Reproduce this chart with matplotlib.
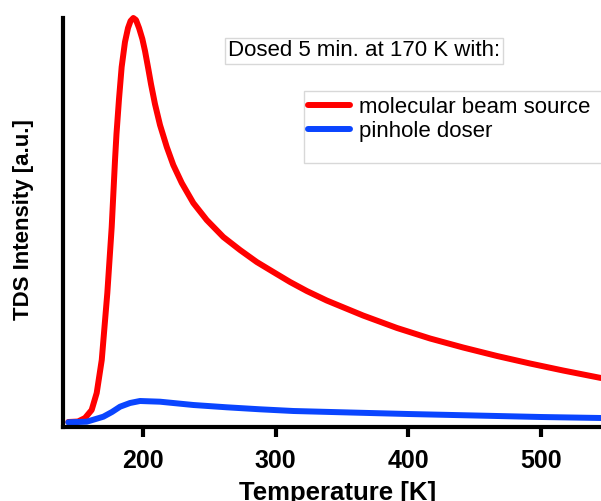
import matplotlib
matplotlib.use('Agg')
import matplotlib.pyplot as plt
from matplotlib.patches import Rectangle

plt.rcParams['font.family'] = ['Liberation Sans', 'DejaVu Sans']

# Datos (temperatura en K, intensidad en unidades arbitrarias)
t_beam = [143.7, 151.0, 156.3, 161.3, 165.1, 168.9, 173.1, 176.4, 178.9, 180.0,
          181.9, 183.9, 186.4, 188.7, 190.6, 192.7, 194.7, 197.0, 199.5, 201.5,
          204.0, 206.0, 209.0, 212.8, 217.9, 222.8, 229.2, 237.9, 248.0, 260.5,
          273.1, 285.7, 298.2, 310.8, 323.4, 338.4, 365.8, 391.4, 416.3, 441.2,
          466.8, 491.6, 516.5, 545.1]
i_beam = [5, 5.5, 9, 17, 34, 67, 134, 200, 267, 293,
          328, 360, 385, 399, 406, 409, 407, 399, 388, 376,
          358, 343, 323, 302, 280, 262, 244, 224, 207, 190,
          177, 165, 155, 145, 136, 126.5, 111.5, 99, 88.5, 79.5,
          71, 63.5, 56.5, 49]

t_pin = [143.7, 157.6, 170.1, 176.6, 182.7, 190.2, 197.7, 212.8, 237.9, 263.1,
         288.2, 313.3, 356.0, 399.7, 450.2, 499.9, 545.1]
i_pin = [4.7, 5.3, 10.3, 15, 20.3, 24, 26, 25.3, 22, 19.7,
         17.7, 16, 14.5, 13, 11.5, 10, 9]

xticks = [200, 300, 400, 500]

fig = plt.figure(figsize=(6.01, 5.01), dpi=100)
ax = fig.add_axes([63/601, 1 - 427/501, 1 - 63/601, (427 - 18)/501])

ax.plot(t_beam, i_beam, color='#ff0000', lw=4.3, solid_joinstyle='round',
        solid_capstyle='round', clip_on=False, label='molecular beam source')
ax.plot(t_pin, i_pin, color='#0a45ff', lw=4.3, solid_joinstyle='round',
        solid_capstyle='round', label='pinhole doser')

ax.set_xlim(139.7, 545.1)
ax.set_ylim(0, 409)

ax.spines['top'].set_visible(False)
ax.spines['right'].set_visible(False)
ax.spines['left'].set_linewidth(3)
ax.spines['bottom'].set_linewidth(3)

ax.set_yticks([])
ax.set_xticks(xticks)
ax.tick_params(axis='x', direction='out', length=7, width=3, pad=9,
               labelsize=18)
for lab in ax.get_xticklabels():
    lab.set_fontweight('bold')

fig.text(338/601, 1 - 493/501, 'Temperature [K]', fontsize=18.5, fontweight='bold',
         ha='center', va='center')
fig.text(24/601, 1 - 220/501, 'TDS Intensity [a.u.]', fontsize=16, fontweight='bold',
         ha='center', va='center', rotation=90)

# Texto con recuadro
fig.text(364/601, 1 - 51/501, 'Dosed 5 min. at 170 K with:', fontsize=16,
         ha='center', va='center',
         bbox=dict(boxstyle='square,pad=0.12', fc='white', ec='#d8d8d8', lw=1))

# Recuadro de la leyenda
fig.patches.append(Rectangle((304/601, 1 - 163/501), 310/601, 72/501,
                             transform=fig.transFigure, fc='white', ec='#d8d8d8',
                             lw=1, zorder=1))

leg = fig.legend(loc='upper left', bbox_to_anchor=(299/601, 1 - 88/501),
                 frameon=False, fontsize=16, handlelength=1.9, handletextpad=0.4,
                 labelspacing=0.15, borderaxespad=0)

fig.savefig('out.png', dpi=100)
